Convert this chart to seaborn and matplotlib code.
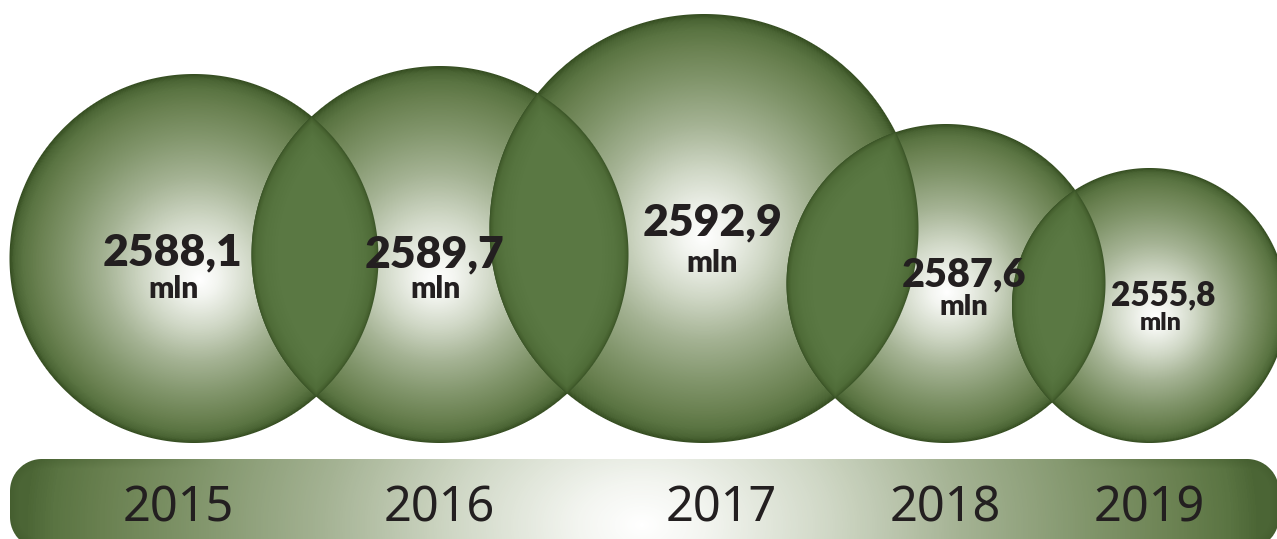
import numpy as np
import matplotlib
matplotlib.use("Agg")
import matplotlib.pyplot as plt
from matplotlib.colors import LinearSegmentedColormap, to_rgb
import seaborn as sns

# ---------------- data ----------------
years = ["2015", "2016", "2017", "2018", "2019"]
values = [2588.1, 2589.7, 2592.9, 2587.6, 2555.8]
unit = "mln"

# ---------------- layout (pixels) ----------------
W, H = 1277, 539
centers = [(194, 258.5), (440, 254.5), (704, 228.5), (946, 283.5), (1149.5, 305.5)]
radii = [184.5, 188.5, 214.5, 159.5, 137.5]
focals = [(200, 280), (436, 280), (704, 236), (947, 292), (1156, 318)]
value_pos = [(172, 265), (435, 267), (713, 235), (964, 287), (1163, 305)]
value_size = [32, 32, 32, 28.5, 24]
unit_pos = [(173, 298), (435, 298), (712, 272), (964, 315), (1161, 330)]
unit_size = [21.5, 21.5, 22, 21, 18]
year_x = [178, 439, 721, 945, 1149]
year_baseline = 522
bar_box = (10, 459, 1279, 549)  # x0, y0, x1, y1
bar_radius = 32

TEXT = "#231f20"

sns.set_theme(style="white")
plt.rcParams["font.family"] = ["Noto Sans", "DejaVu Sans"]
BOLD_FAMILY = ["Lato", "DejaVu Sans"]

ramp = LinearSegmentedColormap.from_list("bubble", [
    (0.00, "#ffffff"), (0.10, "#f3f5f0"), (0.30, "#cfd7c5"), (0.50, "#a5b394"),
    (0.70, "#82966c"), (0.85, "#6a8151"), (0.93, "#5a7442"), (0.975, "#4b6535"),
    (1.00, "#364e22")])

lens_depth = [0, 2, 5, 14, 26]
lens_cols = [to_rgb(c) for c in ["#3a5427", "#46612f", "#4f6c38", "#56743f", "#5a7843"]]

xs = np.arange(W) + 0.5
ys = np.arange(H) + 0.5
X, Y = np.meshgrid(xs, ys)
canvas = np.ones((H, W, 3))

covs, depths = [], []
for (cx, cy), R, (fx, fy) in zip(centers, radii, focals):
    dist = np.hypot(X - cx, Y - cy)
    cov = np.clip(R - dist + 0.5, 0, 1)
    dx, dy = X - fx, Y - fy
    L = np.hypot(dx, dy)
    ux, uy = dx / np.maximum(L, 1e-6), dy / np.maximum(L, 1e-6)
    fcx, fcy = fx - cx, fy - cy
    b = ux * fcx + uy * fcy
    cterm = fcx ** 2 + fcy ** 2 - R ** 2
    s = -b + np.sqrt(np.maximum(b ** 2 - cterm, 0))
    t = np.clip(L / np.maximum(s, 1e-6), 0, 1)
    col = ramp(t)[..., :3]
    canvas = canvas * (1 - cov[..., None]) + col * cov[..., None]
    covs.append(cov)
    depths.append(R - dist)

for i in range(len(centers) - 1):
    lcov = np.minimum(covs[i], covs[i + 1])
    depth = np.minimum(depths[i], depths[i + 1])
    lcol = np.stack([np.interp(depth, lens_depth, [c[k] for c in lens_cols]) for k in range(3)], axis=-1)
    canvas = canvas * (1 - lcov[..., None]) + lcol * lcov[..., None]

# bottom bar (rounded rectangle with horizontal gradient)
x0, y0, x1, y1 = bar_box
bcx, bcy = (x0 + x1) / 2, (y0 + y1) / 2
hx, hy = (x1 - x0) / 2, (y1 - y0) / 2
qx = np.abs(X - bcx) - (hx - bar_radius)
qy = np.abs(Y - bcy) - (hy - bar_radius)
sd = np.hypot(np.maximum(qx, 0), np.maximum(qy, 0)) + np.minimum(np.maximum(qx, qy), 0) - bar_radius
bcov = np.clip(0.5 - sd, 0, 1)
tb = np.clip(np.sqrt(((X - 642) / 615) ** 2 + ((Y - 525) / 420) ** 2), 0, 1)
bcol = ramp(tb * 0.97)[..., :3]
endw = np.clip((np.abs(X - 642) - 420) / 220, 0, 1)
rim = (np.clip(1 - (-sd) / 10, 0, 1) * endw * 0.4)[..., None]
bcol = bcol * (1 - rim) + np.array(to_rgb("#3a5226")) * rim
canvas = canvas * (1 - bcov[..., None]) + bcol * bcov[..., None]

fig = plt.figure(figsize=(W / 100, H / 100), dpi=100)
ax = fig.add_axes([0, 0, 1, 1])
ax.imshow(canvas, extent=(0, W, H, 0), origin="upper", interpolation="nearest", aspect="auto")
ax.set_xlim(0, W)
ax.set_ylim(H, 0)
ax.axis("off")

for v, (vx, vy), vs, (ux_, uy_), us in zip(values, value_pos, value_size, unit_pos, unit_size):
    ax.text(vx, vy, f"{v:.1f}".replace(".", ","), ha="center", va="baseline",
            fontsize=vs, fontweight="heavy", color=TEXT, family=BOLD_FAMILY)
    ax.text(ux_, uy_, unit, ha="center", va="baseline", fontsize=us,
            fontweight="heavy", color=TEXT, family=BOLD_FAMILY)

for yr, yx in zip(years, year_x):
    ax.text(yx, year_baseline, yr, ha="center", va="baseline", fontsize=35, color=TEXT)

fig.savefig("out.png", dpi=100)
